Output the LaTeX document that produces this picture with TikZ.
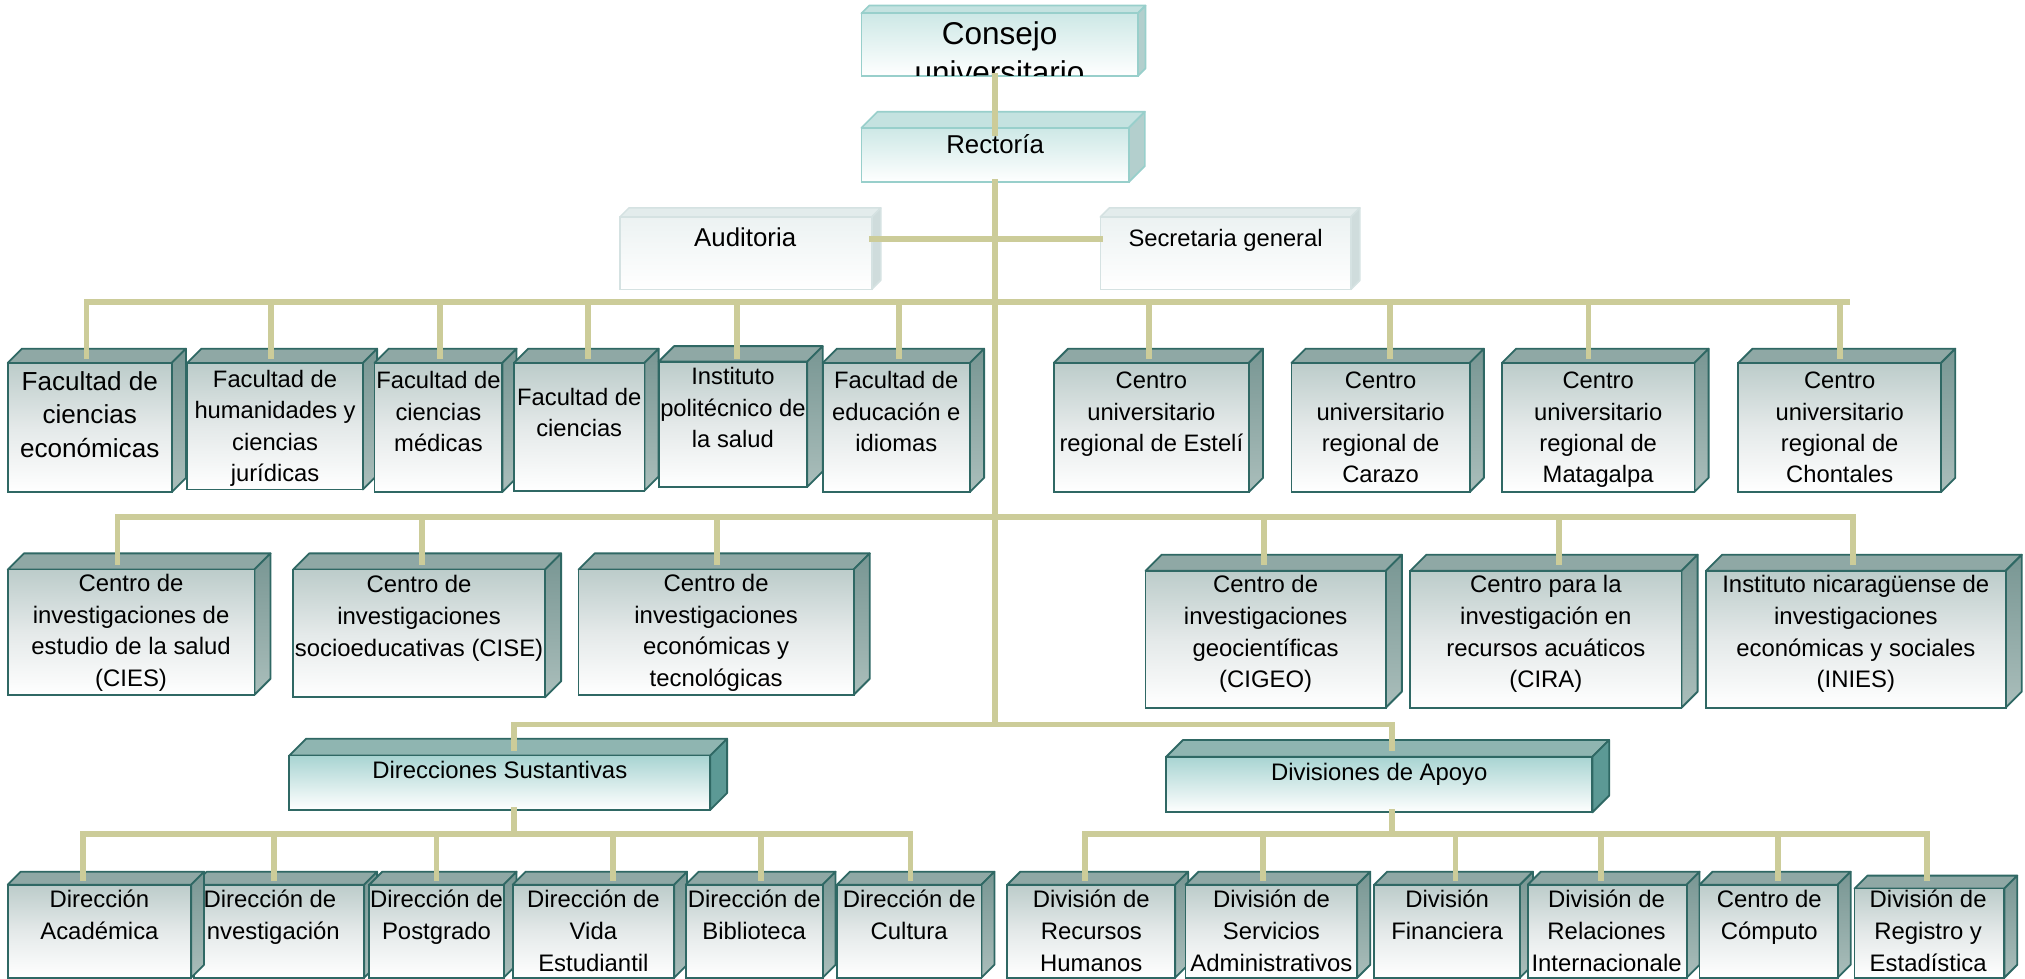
\documentclass[tikz,border=0pt]{standalone}
\usepackage{fontspec}
\setmainfont{Liberation Sans}
\definecolor{connc}{RGB}{204,204,153}
\definecolor{dkB}{RGB}{47,104,100}
\definecolor{dkTop}{RGB}{143,168,165}
\definecolor{dkS1}{RGB}{120,150,147}
\definecolor{dkS2}{RGB}{170,190,187}
\definecolor{dkF1}{RGB}{188,204,202}
\definecolor{dkF2}{RGB}{228,233,233}
\definecolor{tlF1}{RGB}{168,212,210}
\definecolor{tlTop}{RGB}{143,181,177}
\definecolor{tlS}{RGB}{92,153,149}
\definecolor{ltB}{RGB}{152,207,203}
\definecolor{ltTop}{RGB}{196,226,224}
\definecolor{ltS}{RGB}{179,207,205}
\definecolor{ltF1}{RGB}{205,232,230}
\definecolor{gyB}{RGB}{213,226,226}
\definecolor{gyTop}{RGB}{227,236,236}
\definecolor{gyS}{RGB}{207,220,220}
\definecolor{gyF1}{RGB}{236,242,242}
\tikzset{
  conn/.style={draw=connc, line width=4.6pt, line cap=rect},
  dk top/.style={fill=dkTop, draw=dkB, line width=1.4pt, line join=round},
  dk side/.style={top color=dkS1, bottom color=dkS2, draw=dkB, line width=1.4pt, line join=round},
  dk front/.style={top color=dkF1, bottom color=white, middle color=dkF2, draw=dkB, line width=1.4pt},
  tl top/.style={fill=tlTop, draw=dkB, line width=1.4pt, line join=round},
  tl side/.style={fill=tlS, draw=dkB, line width=1.4pt, line join=round},
  tl front/.style={top color=tlF1, bottom color=white, draw=dkB, line width=1.4pt},
  lt top/.style={fill=ltTop, draw=ltB, line width=1.3pt, line join=round},
  lt side/.style={fill=ltS, draw=ltB, line width=1.3pt, line join=round},
  lt front/.style={top color=ltF1, bottom color=white, draw=ltB, line width=1.3pt},
  gy top/.style={fill=gyTop, draw=gyB, line width=1.2pt, line join=round},
  gy side/.style={fill=gyS, draw=gyB, line width=1.2pt, line join=round},
  gy front/.style={top color=gyF1, bottom color=white, draw=gyB, line width=1.2pt},
  btxt/.style={anchor=base, inner sep=0pt, outer sep=0pt, text=black}
}
% name, style, x1, y1, x2, y2, depth
\newcommand\cubebox[7]{%
  \path[#2 top] (#3,-#4) -- (#3+#7,-#4+#7) -- (#5+#7,-#4+#7) -- (#5,-#4) -- cycle;
  \path[#2 side] (#5,-#4) -- (#5+#7,-#4+#7) -- (#5+#7,-#6+#7) -- (#5,-#6) -- cycle;
  \node[#2 front, anchor=north west, inner sep=0pt, outer sep=0pt,
        minimum width={(#5-#3)*1pt}, minimum height={(#6-#4)*1pt}] (#1) at (#3,-#4) {};%
}
% name, x center, first baseline, font, lines
\newcommand\btext[5]{%
  \node[btxt] (#1) at (#2,-#3) {#4\begin{tabular}[t]{@{}c@{}}#5\end{tabular}};%
}
\newcommand\fA{\fontsize{18.4}{24.3}\selectfont}
\newcommand\fBig{\fontsize{20.2}{26.3}\selectfont}
\newcommand\fR{\fontsize{18.5}{24.5}\selectfont}
\begin{document}
\begin{tikzpicture}[x=1pt,y=1pt]
\useasboundingbox (0,0) rectangle (1568,-758);
\fill[white] (0,0) rectangle (1568,-758);

% ---- top
\cubebox{cons}{lt}{667}{10.3}{881}{58.9}{6}
\begin{scope}
  \clip (667.7,-11) rectangle (880.3,-58.2);
  \btext{cons-t}{774}{34.3}{\fontsize{24.4}{30}\selectfont}{Consejo\\universitario}
\end{scope}
\cubebox{rect}{lt}{667}{99}{874}{141}{12.5}
\btext{rect-t}{770.5}{118.5}{\fontsize{20}{24}\selectfont}{Rectoría}

\cubebox{aud}{gy}{480}{168}{675}{224}{7}
\btext{aud-t}{577}{191}{\fontsize{20}{24}\selectfont}{Auditoria}
\cubebox{sec}{gy}{852}{168}{1046}{224}{7}
\btext{sec-t}{949}{191}{\fA}{Secretaria general}

% ---- row 1
\cubebox{fac1}{dk}{6}{281}{133}{381}{11}
\btext{fac1-t}{69.5}{302}{\fBig}{Facultad de\\ciencias\\económicas}
\cubebox{fac2}{dk}{145}{281}{281}{379}{11}
\btext{fac2-t}{213}{300}{\fA}{Facultad de\\humanidades y\\ciencias\\jurídicas}
\cubebox{fac3}{dk}{290}{281}{389}{381}{11}
\btext{fac3-t}{339.5}{301}{\fA}{Facultad de\\ciencias\\médicas}
\cubebox{fac4}{dk}{398}{281}{499}{380}{11}
\btext{fac4-t}{448.5}{314}{\fA}{Facultad de\\ciencias}
\cubebox{ips}{dk}{510}{280}{625}{377}{12}
\btext{ips-t}{567.5}{298}{\fA}{Instituto\\politécnico de\\la salud}
\cubebox{fac6}{dk}{637}{281}{751}{381}{11}
\btext{fac6-t}{694}{301}{\fA}{Facultad de\\educación e\\idiomas}
\cubebox{cr1}{dk}{816}{281}{967}{381}{11}
\btext{cr1-t}{891.5}{301}{\fA}{Centro\\universitario\\regional de Estelí}
\cubebox{cr2}{dk}{1000}{281}{1138}{381}{11}
\btext{cr2-t}{1069}{301}{\fA}{Centro\\universitario\\regional de\\Carazo}
\cubebox{cr3}{dk}{1163}{281}{1312}{381}{11}
\btext{cr3-t}{1237.5}{301}{\fA}{Centro\\universitario\\regional de\\Matagalpa}
\cubebox{cr4}{dk}{1346}{281}{1503}{381}{11}
\btext{cr4-t}{1424.5}{301}{\fA}{Centro\\universitario\\regional de\\Chontales}

% ---- row 2
\cubebox{cies}{dk}{6}{441}{197}{538}{12.5}
\btext{cies-t}{101.5}{458}{\fR}{Centro de\\investigaciones de\\estudio de la salud\\(CIES)}
\cubebox{cise}{dk}{227}{441}{422}{540}{12.5}
\btext{cise-t}{324.5}{459}{\fR}{Centro de\\investigaciones\\socioeducativas (CISE)}
\cubebox{ciet}{dk}{448}{441}{661}{538}{12.5}
\btext{ciet-t}{554.5}{458}{\fR}{Centro de\\investigaciones\\económicas y\\tecnológicas}
\cubebox{cigeo}{dk}{887}{442}{1073}{548}{12.5}
\btext{cigeo-t}{980}{459}{\fR}{Centro de\\investigaciones\\geocientíficas\\(CIGEO)}
\cubebox{cira}{dk}{1092}{442}{1302}{548}{12.5}
\btext{cira-t}{1197}{459}{\fR}{Centro para la\\investigación en\\recursos acuáticos\\(CIRA)}
\cubebox{inies}{dk}{1321}{442}{1553}{548}{12.5}
\btext{inies-t}{1437}{459}{\fR}{Instituto nicaragüense de\\investigaciones\\económicas y sociales\\(INIES)}

% ---- row 3
\cubebox{dirs}{tl}{224}{585}{550}{627}{13}
\btext{dirs-t}{387}{603}{\fR}{Direcciones Sustantivas}
\cubebox{divs}{tl}{903}{586}{1233}{629}{13}
\btext{divs-t}{1068}{604}{\fR}{Divisiones de Apoyo}

% ---- row 4
\cubebox{di}{dk}{150}{685}{282}{757}{10}
\btext{di-t}{209}{703}{\fR}{Dirección de\\Investigación}
\cubebox{da}{dk}{6}{685}{148}{757}{10}
\btext{da-t}{77}{703}{\fR}{Dirección\\Académica}
\cubebox{dp}{dk}{286}{685}{390}{757}{10}
\btext{dp-t}{338}{703}{\fR}{Dirección de\\Postgrado}
\cubebox{dv}{dk}{397}{685}{522}{757}{10}
\btext{dv-t}{459.5}{703}{\fR}{Dirección de\\Vida\\Estudiantil}
\cubebox{db}{dk}{531}{685}{637}{757}{10}
\btext{db-t}{584}{703}{\fR}{Dirección de\\Biblioteca}
\cubebox{dc}{dk}{648}{685}{760}{757}{10}
\btext{dc-t}{704}{703}{\fR}{Dirección de\\Cultura}
\cubebox{rh}{dk}{780}{685}{910}{757}{10}
\btext{rh-t}{845}{703}{\fR}{División de\\Recursos\\Humanos}
\cubebox{sa}{dk}{918}{685}{1051}{757}{10}
\btext{sa-t}{984.5}{703}{\fR}{División de\\Servicios\\Administrativos}
\cubebox{fi}{dk}{1064}{685}{1177}{757}{10}
\btext{fi-t}{1120.5}{703}{\fR}{División\\Financiera}
\cubebox{ri}{dk}{1183}{685}{1306}{757}{10}
\btext{ri-t}{1244}{703}{\fR}{División de\\Relaciones\\Internacionale}
\cubebox{cc}{dk}{1316}{685}{1423}{757}{10}
\btext{cc-t}{1370}{703}{\fR}{Centro de\\Cómputo}
\cubebox{rg}{dk}{1436}{688}{1552}{757}{10}
\btext{rg-t}{1493}{703}{\fR}{División de\\Registro y\\Estadística}

% ---- connection points
\coordinate (b1) at (0,-234);
\coordinate (b2) at (0,-400);
\coordinate (b3) at (0,-561);
\coordinate (b4) at (0,-646);
\foreach \n/\x in {fac1/67,fac2/210,fac3/341,fac4/455,ips/571,fac6/696,cr1/890,cr2/1076,cr3/1230,cr4/1425}
  {\coordinate (\n-c) at (\x,-275.5);}
\foreach \n/\x in {cies/91,cise/327,ciet/555,cigeo/979,cira/1207,inies/1435}
  {\coordinate (\n-c) at (\x,-435);}
\foreach \n/\x in {dirs/398,divs/1078}
  {\coordinate (\n-c) at (\x,-579);}
\foreach \n/\x in {da/64,di/212,dp/338,dv/475,db/589,dc/705,rh/840,sa/978,fi/1127,ri/1240,cc/1377,rg/1492}
  {\coordinate (\n-c) at (\x,-680);}

% ---- connectors
\draw[conn] (rect.north |- cons.south) -- ([yshift=-4pt]rect.north);
\draw[conn] (rect.south) -- (rect.south |- b3);
\draw[conn] ([yshift=11pt]aud.east) -- ([yshift=11pt]sec.west);
\draw[conn] (fac1-c |- b1) -- ([xshift=5pt]cr4-c |- b1);
\foreach \n in {fac1,fac2,fac3,fac4,ips,fac6,cr1,cr2,cr3,cr4}
  {\draw[conn] (\n-c |- b1) -- (\n-c);}
\draw[conn] (cies-c |- b2) -- (inies-c |- b2);
\foreach \n in {cies,cise,ciet,cigeo,cira,inies}
  {\draw[conn] (\n-c |- b2) -- (\n-c);}
\draw[conn] (dirs-c |- b3) -- (divs-c |- b3);
\foreach \n in {dirs,divs}
  {\draw[conn] (\n-c |- b3) -- (\n-c);}
\draw[conn] (dirs-c |- dirs.south) -- (dirs-c |- b4);
\draw[conn] (divs-c |- divs.south) -- (divs-c |- b4);
\draw[conn] (da-c |- b4) -- (dc-c |- b4);
\draw[conn] (rh-c |- b4) -- (rg-c |- b4);
\foreach \n in {da,di,dp,dv,db,dc,rh,sa,fi,ri,cc,rg}
  {\draw[conn] (\n-c |- b4) -- (\n-c);}
\end{tikzpicture}
\end{document}
